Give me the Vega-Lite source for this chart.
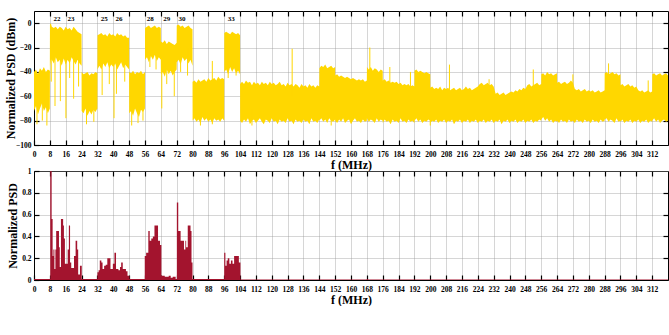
{
  "$schema": "https://vega.github.io/schema/vega-lite/v6.json",
  "autosize": {"type": "pad"},
  "padding": {"left": 3, "top": 9, "right": 2, "bottom": 0},
  "background": "white",
  "bounds": "flush",
  "spacing": 26,
  "datasets": {
    "top": [
      {"f":0,"l":-72,"h":-40},{"f":1,"l":-68,"h":-38},{"f":2,"l":-75,"h":-42},{"f":3,"l":-70,"h":-37},{"f":4,"l":-66,"h":-39},{"f":5,"l":-72,"h":-36},{"f":6,"l":-69,"h":-40},{"f":7,"l":-74,"h":-38},{"f":8,"l":-70,"h":-39},
      {"f":8.05,"l":-35,"h":-1},{"f":8.5,"l":-30,"h":0},{"f":9,"l":-30,"h":-3},{"f":10,"l":-33,"h":-4},{"f":11,"l":-28,"h":-3},{"f":12,"l":-32,"h":-5},{"f":13,"l":-30,"h":-3},{"f":14,"l":-35,"h":-4},{"f":15,"l":-29,"h":-6},{"f":16,"l":-34,"h":-3},{"f":17,"l":-30,"h":-5},{"f":18,"l":-33,"h":-4},{"f":19,"l":-28,"h":-6},{"f":20,"l":-31,"h":-3},{"f":21,"l":-34,"h":-5},{"f":22,"l":-30,"h":-7},{"f":23,"l":-33,"h":-8},{"f":24,"l":-35,"h":-9},
      {"f":24.05,"l":-72,"h":-40},{"f":25,"l":-74,"h":-42},{"f":26,"l":-70,"h":-41},{"f":27,"l":-76,"h":-40},{"f":28,"l":-72,"h":-43},{"f":29,"l":-75,"h":-41},{"f":30,"l":-71,"h":-42},{"f":31,"l":-73,"h":-40},{"f":32,"l":-70,"h":-41},
      {"f":32.05,"l":-38,"h":-10},{"f":33,"l":-35,"h":-9},{"f":34,"l":-38,"h":-8},{"f":35,"l":-33,"h":-10},{"f":36,"l":-36,"h":-9},{"f":37,"l":-32,"h":-11},{"f":38,"l":-37,"h":-8},{"f":39,"l":-34,"h":-10},{"f":40,"l":-36,"h":-9},{"f":41,"l":-33,"h":-11},{"f":42,"l":-38,"h":-8},{"f":43,"l":-35,"h":-10},{"f":44,"l":-32,"h":-9},{"f":45,"l":-37,"h":-11},{"f":46,"l":-34,"h":-10},{"f":47,"l":-36,"h":-12},{"f":48,"l":-38,"h":-12},
      {"f":48.05,"l":-74,"h":-40},{"f":49,"l":-72,"h":-41},{"f":50,"l":-76,"h":-39},{"f":51,"l":-70,"h":-42},{"f":52,"l":-74,"h":-40},{"f":53,"l":-77,"h":-41},{"f":54,"l":-71,"h":-39},{"f":55,"l":-73,"h":-42},{"f":56,"l":-70,"h":-40},
      {"f":56.05,"l":-30,"h":-4},{"f":57,"l":-28,"h":-3},{"f":58,"l":-32,"h":-2},{"f":59,"l":-27,"h":-4},{"f":60,"l":-30,"h":-3},{"f":61,"l":-26,"h":-2},{"f":62,"l":-31,"h":-4},{"f":63,"l":-28,"h":-3},{"f":64,"l":-30,"h":-4},
      {"f":64.05,"l":-42,"h":-15},{"f":65,"l":-40,"h":-16},{"f":66,"l":-44,"h":-14},{"f":67,"l":-38,"h":-17},{"f":68,"l":-42,"h":-15},{"f":69,"l":-39,"h":-16},{"f":70,"l":-43,"h":-17},{"f":71,"l":-40,"h":-18},{"f":72,"l":-38,"h":-16},
      {"f":72.05,"l":-32,"h":-2},{"f":73,"l":-30,"h":-1},{"f":74,"l":-34,"h":-3},{"f":75,"l":-28,"h":-2},{"f":76,"l":-31,"h":-4},{"f":77,"l":-29,"h":-3},{"f":78,"l":-33,"h":-2},{"f":79,"l":-30,"h":-4},{"f":80,"l":-35,"h":-5},
      {"f":80.05,"l":-80,"h":-48},{"f":81,"l":-78,"h":-47},{"f":82,"l":-81,"h":-49},{"f":83,"l":-79,"h":-46},{"f":84,"l":-82,"h":-48},{"f":85,"l":-77,"h":-47},{"f":86,"l":-80,"h":-46},{"f":87,"l":-78,"h":-48},{"f":88,"l":-81,"h":-45},{"f":89,"l":-79,"h":-47},{"f":90,"l":-82,"h":-46},{"f":91,"l":-78,"h":-45},{"f":92,"l":-80,"h":-47},{"f":93,"l":-79,"h":-44},{"f":94,"l":-81,"h":-46},{"f":95,"l":-78,"h":-45},{"f":96,"l":-80,"h":-46},
      {"f":96.05,"l":-40,"h":-8},{"f":97,"l":-38,"h":-7},{"f":98,"l":-42,"h":-8},{"f":99,"l":-36,"h":-9},{"f":100,"l":-40,"h":-7},{"f":101,"l":-37,"h":-8},{"f":102,"l":-41,"h":-9},{"f":103,"l":-39,"h":-8},{"f":104,"l":-42,"h":-10},
      {"f":104.05,"l":-80,"h":-50},{"f":105,"l":-82,"h":-48},{"f":106,"l":-79,"h":-50},{"f":107,"l":-81,"h":-47},{"f":108,"l":-78,"h":-49},{"f":109,"l":-83,"h":-48},{"f":110,"l":-80,"h":-51},{"f":111,"l":-79,"h":-48},{"f":112,"l":-82,"h":-50},{"f":113,"l":-80,"h":-49},{"f":114,"l":-78,"h":-51},{"f":115,"l":-81,"h":-48},{"f":116,"l":-83,"h":-50},{"f":117,"l":-79,"h":-49},{"f":118,"l":-80,"h":-51},{"f":119,"l":-82,"h":-48},{"f":120,"l":-78,"h":-50},{"f":121,"l":-81,"h":-49},{"f":122,"l":-80,"h":-51},{"f":123,"l":-83,"h":-50},{"f":124,"l":-79,"h":-48},{"f":125,"l":-81,"h":-51},{"f":126,"l":-80,"h":-50},{"f":127,"l":-82,"h":-52},{"f":128,"l":-78,"h":-49},{"f":129,"l":-81,"h":-51},{"f":130,"l":-80,"h":-50},{"f":131,"l":-83,"h":-52},{"f":132,"l":-79,"h":-50},{"f":133,"l":-81,"h":-51},{"f":134,"l":-80,"h":-53},{"f":135,"l":-82,"h":-50},{"f":136,"l":-79,"h":-52},{"f":137,"l":-81,"h":-51},{"f":138,"l":-80,"h":-53},{"f":139,"l":-83,"h":-50},{"f":140,"l":-78,"h":-52},{"f":141,"l":-81,"h":-51},{"f":142,"l":-80,"h":-53},{"f":143,"l":-82,"h":-51},{"f":144,"l":-79,"h":-52},
      {"f":144.05,"l":-80,"h":-37},{"f":145,"l":-78,"h":-35},{"f":146,"l":-81,"h":-36},{"f":147,"l":-79,"h":-34},{"f":148,"l":-82,"h":-37},{"f":149,"l":-78,"h":-36},{"f":150,"l":-80,"h":-35},{"f":151,"l":-81,"h":-37},{"f":152,"l":-79,"h":-36},
      {"f":152.05,"l":-80,"h":-43},{"f":153,"l":-82,"h":-42},{"f":154,"l":-79,"h":-44},{"f":155,"l":-81,"h":-43},{"f":156,"l":-78,"h":-44},{"f":157,"l":-82,"h":-45},{"f":158,"l":-80,"h":-44},{"f":159,"l":-79,"h":-45},{"f":160,"l":-83,"h":-46},{"f":161,"l":-80,"h":-45},{"f":162,"l":-78,"h":-46},{"f":163,"l":-81,"h":-47},{"f":164,"l":-80,"h":-46},{"f":165,"l":-82,"h":-47},{"f":166,"l":-79,"h":-46},{"f":167,"l":-81,"h":-48},{"f":168,"l":-80,"h":-47},
      {"f":168.05,"l":-78,"h":-36},{"f":169,"l":-81,"h":-38},{"f":170,"l":-79,"h":-36},{"f":171,"l":-80,"h":-39},{"f":172,"l":-82,"h":-37},{"f":173,"l":-78,"h":-38},{"f":174,"l":-81,"h":-40},{"f":175,"l":-79,"h":-38},{"f":176,"l":-80,"h":-39},
      {"f":176.05,"l":-82,"h":-47},{"f":177,"l":-79,"h":-46},{"f":178,"l":-81,"h":-48},{"f":179,"l":-80,"h":-47},{"f":180,"l":-83,"h":-49},{"f":181,"l":-79,"h":-48},{"f":182,"l":-81,"h":-49},{"f":183,"l":-80,"h":-48},{"f":184,"l":-82,"h":-50},{"f":185,"l":-78,"h":-49},{"f":186,"l":-81,"h":-51},{"f":187,"l":-80,"h":-50},{"f":188,"l":-82,"h":-51},{"f":189,"l":-79,"h":-50},{"f":190,"l":-81,"h":-52},{"f":191,"l":-80,"h":-51},{"f":192,"l":-82,"h":-52},
      {"f":192.05,"l":-80,"h":-39},{"f":193,"l":-78,"h":-38},{"f":194,"l":-81,"h":-40},{"f":195,"l":-79,"h":-39},{"f":196,"l":-82,"h":-40},{"f":197,"l":-80,"h":-41},{"f":198,"l":-81,"h":-40},{"f":199,"l":-79,"h":-41},{"f":200,"l":-80,"h":-42},
      {"f":200.05,"l":-82,"h":-53},{"f":201,"l":-80,"h":-52},{"f":202,"l":-81,"h":-54},{"f":203,"l":-79,"h":-53},{"f":204,"l":-82,"h":-54},{"f":205,"l":-80,"h":-52},{"f":206,"l":-81,"h":-55},{"f":207,"l":-79,"h":-53},{"f":208,"l":-82,"h":-54},{"f":209,"l":-80,"h":-53},{"f":210,"l":-81,"h":-55},{"f":211,"l":-79,"h":-54},{"f":212,"l":-83,"h":-53},{"f":213,"l":-80,"h":-55},{"f":214,"l":-81,"h":-54},{"f":215,"l":-79,"h":-53},{"f":216,"l":-82,"h":-55},{"f":217,"l":-80,"h":-54},{"f":218,"l":-81,"h":-52},{"f":219,"l":-79,"h":-54},{"f":220,"l":-82,"h":-53},{"f":221,"l":-80,"h":-55},{"f":222,"l":-81,"h":-54},{"f":223,"l":-79,"h":-53},{"f":224,"l":-82,"h":-52},
      {"f":225,"l":-80,"h":-50},{"f":226,"l":-81,"h":-49},{"f":227,"l":-79,"h":-51},{"f":228,"l":-82,"h":-50},{"f":229,"l":-80,"h":-49},{"f":230,"l":-81,"h":-51},{"f":231,"l":-79,"h":-50},{"f":232,"l":-82,"h":-52},
      {"f":233,"l":-80,"h":-58},{"f":234,"l":-81,"h":-57},{"f":235,"l":-79,"h":-59},{"f":236,"l":-83,"h":-58},{"f":237,"l":-80,"h":-57},{"f":238,"l":-81,"h":-59},{"f":239,"l":-79,"h":-58},{"f":240,"l":-82,"h":-57},
      {"f":241,"l":-80,"h":-56},{"f":242,"l":-81,"h":-57},{"f":243,"l":-79,"h":-55},{"f":244,"l":-82,"h":-56},{"f":245,"l":-80,"h":-54},{"f":246,"l":-81,"h":-55},{"f":247,"l":-79,"h":-53},{"f":248,"l":-82,"h":-54},
      {"f":249,"l":-80,"h":-51},{"f":250,"l":-81,"h":-50},{"f":251,"l":-79,"h":-52},{"f":252,"l":-82,"h":-51},{"f":253,"l":-80,"h":-50},{"f":254,"l":-81,"h":-49},{"f":255,"l":-79,"h":-51},{"f":256,"l":-80,"h":-50},
      {"f":256.05,"l":-79,"h":-42},{"f":257,"l":-77,"h":-41},{"f":258,"l":-80,"h":-43},{"f":259,"l":-78,"h":-40},{"f":260,"l":-81,"h":-42},{"f":261,"l":-79,"h":-41},{"f":262,"l":-82,"h":-43},{"f":263,"l":-80,"h":-42},{"f":264,"l":-81,"h":-41},
      {"f":264.05,"l":-80,"h":-49},{"f":265,"l":-82,"h":-48},{"f":266,"l":-79,"h":-50},{"f":267,"l":-81,"h":-49},{"f":268,"l":-80,"h":-48},{"f":269,"l":-82,"h":-50},{"f":270,"l":-79,"h":-49},{"f":271,"l":-81,"h":-47},{"f":272,"l":-80,"h":-49},
      {"f":273,"l":-82,"h":-54},{"f":274,"l":-79,"h":-55},{"f":275,"l":-81,"h":-54},{"f":276,"l":-80,"h":-56},{"f":277,"l":-82,"h":-55},{"f":278,"l":-79,"h":-54},{"f":279,"l":-81,"h":-56},{"f":280,"l":-80,"h":-55},{"f":281,"l":-82,"h":-56},{"f":282,"l":-79,"h":-55},{"f":283,"l":-81,"h":-57},{"f":284,"l":-80,"h":-56},{"f":285,"l":-82,"h":-55},{"f":286,"l":-79,"h":-57},{"f":287,"l":-81,"h":-56},{"f":288,"l":-80,"h":-55},
      {"f":288.05,"l":-79,"h":-41},{"f":289,"l":-78,"h":-40},{"f":290,"l":-81,"h":-42},{"f":291,"l":-79,"h":-41},{"f":292,"l":-80,"h":-40},{"f":293,"l":-82,"h":-42},{"f":294,"l":-78,"h":-41},{"f":295,"l":-81,"h":-43},{"f":296,"l":-80,"h":-42},
      {"f":296.05,"l":-81,"h":-51},{"f":297,"l":-79,"h":-50},{"f":298,"l":-82,"h":-52},{"f":299,"l":-80,"h":-51},{"f":300,"l":-81,"h":-50},{"f":301,"l":-79,"h":-52},{"f":302,"l":-82,"h":-51},{"f":303,"l":-80,"h":-53},{"f":304,"l":-81,"h":-52},
      {"f":305,"l":-79,"h":-55},{"f":306,"l":-82,"h":-56},{"f":307,"l":-80,"h":-55},{"f":308,"l":-81,"h":-57},{"f":309,"l":-79,"h":-56},{"f":310,"l":-82,"h":-55},{"f":311,"l":-80,"h":-57},{"f":312,"l":-81,"h":-56},
      {"f":312.05,"l":-80,"h":-42},{"f":313,"l":-78,"h":-41},{"f":314,"l":-81,"h":-43},{"f":315,"l":-79,"h":-42},{"f":316,"l":-82,"h":-41},{"f":317,"l":-80,"h":-43},{"f":318,"l":-79,"h":-42},{"f":319,"l":-81,"h":-41},{"f":320,"l":-80,"h":-43}
    ],
    "spikes": [
      {"f":1.5,"l":-83,"h":-60},{"f":4.2,"l":-80,"h":-60},{"f":6.5,"l":-84,"h":-60},
      {"f":8.7,"l":-48,"h":-20},{"f":10.6,"l":-68,"h":-20},{"f":13.3,"l":-64,"h":-20},{"f":16.1,"l":-78,"h":-20},{"f":18,"l":-45,"h":-20},{"f":20,"l":-62,"h":-20},{"f":22.5,"l":-52,"h":-20},
      {"f":26.5,"l":-83,"h":-60},{"f":30.2,"l":-81,"h":-60},
      {"f":34.4,"l":-59,"h":-20},{"f":38,"l":-50,"h":-20},{"f":40.4,"l":-78,"h":-20},{"f":41.6,"l":-58,"h":-20},{"f":45.8,"l":-48,"h":-20},
      {"f":49.3,"l":-84,"h":-60},{"f":52.5,"l":-82,"h":-60},{"f":55,"l":-80,"h":-60},
      {"f":58.5,"l":-36,"h":-20},{"f":61.6,"l":-38,"h":-20},
      {"f":64.5,"l":-70,"h":-30},{"f":67,"l":-50,"h":-30},{"f":70.8,"l":-60,"h":-30},
      {"f":74,"l":-40,"h":-20},{"f":77.5,"l":-43,"h":-20},
      {"f":84,"l":-84,"h":-60},{"f":90,"l":-83,"h":-31},
      {"f":98,"l":-45,"h":-20},{"f":102,"l":-43,"h":-20},
      {"f":110,"l":-84,"h":-70},{"f":130.3,"l":-60,"h":-21},{"f":150,"l":-84,"h":-70},{"f":169.5,"l":-60,"h":-20},{"f":179.6,"l":-60,"h":-36},{"f":190,"l":-60,"h":-40},{"f":200,"l":-84,"h":-70},{"f":209.7,"l":-60,"h":-34},{"f":229.7,"l":-60,"h":-46},{"f":252,"l":-60,"h":-38},{"f":272,"l":-60,"h":-42},{"f":290,"l":-60,"h":-33},{"f":310,"l":-60,"h":-47}
    ],
    "channels": [
      {"f":11.6,"t":"22"},{"f":18.7,"t":"23"},{"f":35.4,"t":"25"},{"f":42.9,"t":"26"},{"f":58.7,"t":"28"},{"f":67,"t":"29"},{"f":74.7,"t":"30"},{"f":99.5,"t":"33"}
    ],
    "lin": [
      {"f":0,"v":0.01},{"f":8.2,"v":1.0},{"f":8.9,"v":0.56},{"f":9.4,"v":0.22},{"f":9.8,"v":0.28},{"f":10.3,"v":0.1},{"f":10.8,"v":0.28},{"f":11.2,"v":0.45},{"f":12.6,"v":0.3},{"f":13.0,"v":0.12},{"f":13.6,"v":0.56},{"f":14.7,"v":0.5},{"f":15.1,"v":0.38},{"f":15.6,"v":0.15},{"f":16.4,"v":0.15},{"f":17.0,"v":0.28},{"f":17.6,"v":0.5},{"f":18.2,"v":0.16},{"f":18.8,"v":0.11},{"f":20.2,"v":0.22},{"f":21.0,"v":0.36},{"f":21.8,"v":0.28},{"f":22.3,"v":0.05},{"f":23.2,"v":0.13},{"f":24.1,"v":0.01},
      {"f":32.0,"v":0.07},{"f":32.6,"v":0.09},{"f":33.2,"v":0.18},{"f":34.0,"v":0.16},{"f":34.6,"v":0.1},{"f":35.4,"v":0.13},{"f":36.2,"v":0.14},{"f":37.0,"v":0.2},{"f":38.6,"v":0.1},{"f":39.8,"v":0.15},{"f":40.6,"v":0.25},{"f":41.4,"v":0.1},{"f":42.6,"v":0.09},{"f":43.4,"v":0.12},{"f":44.0,"v":0.16},{"f":44.8,"v":0.1},{"f":46.4,"v":0.08},{"f":47.2,"v":0.04},{"f":48.2,"v":0.01},
      {"f":55.9,"v":0.22},{"f":56.6,"v":0.25},{"f":57.7,"v":0.45},{"f":58.4,"v":0.36},{"f":59.2,"v":0.38},{"f":60.0,"v":0.4},{"f":60.8,"v":0.5},{"f":62.6,"v":0.36},{"f":63.6,"v":0.32},{"f":64.3,"v":0.04},{"f":66.0,"v":0.03},{"f":68.0,"v":0.04},{"f":69.0,"v":0.02},{"f":70.0,"v":0.03},{"f":71.5,"v":0.01},
      {"f":72.1,"v":0.71},{"f":72.8,"v":0.45},{"f":74.0,"v":0.36},{"f":75.7,"v":0.28},{"f":76.4,"v":0.36},{"f":76.8,"v":0.3},{"f":77.6,"v":0.5},{"f":79.0,"v":0.45},{"f":79.5,"v":0.16},{"f":80.0,"v":0.01},
      {"f":96.0,"v":0.25},{"f":96.6,"v":0.13},{"f":97.2,"v":0.18},{"f":97.8,"v":0.2},{"f":98.6,"v":0.15},{"f":99.4,"v":0.18},{"f":100.2,"v":0.15},{"f":101.0,"v":0.22},{"f":103.4,"v":0.16},{"f":104.2,"v":0.004},
      {"f":168.0,"v":0.01},{"f":168.6,"v":0.004},{"f":320,"v":0.004}
    ]
  },
  "vconcat": [
    {
      "width": 634,
      "height": 134,
      "layer": [
        {
          "data": {"name": "top"},
          "mark": {"type": "area", "color": "#FFD700", "interpolate": "linear"},
          "encoding": {
            "x": {"field": "f", "type": "quantitative", "scale": {"domain": [0, 320], "nice": false, "zero": false},
              "axis": {"orient": "bottom", "title": "f (MHz)", "values": [0,8,16,24,32,40,48,56,64,72,80,88,96,104,112,120,128,136,144,152,160,168,176,184,192,200,208,216,224,232,240,248,256,264,272,280,288,296,304,312], "labelFlush": false, "labelOverlap": false, "grid": true, "tickSize": -5, "labelPadding": 10, "titlePadding": 2}},
            "y": {"field": "l", "type": "quantitative", "scale": {"domain": [-100, 10], "nice": false, "zero": false},
              "axis": {"title": "Normalized PSD (dBm)", "values": [-100,-80,-60,-40,-20,0], "grid": true, "tickSize": -5, "labelPadding": 8, "titlePadding": -2}},
            "y2": {"field": "h"}
          }
        },
        {
          "data": {"name": "spikes"},
          "mark": {"type": "rule", "color": "#FFD700", "strokeWidth": 1},
          "encoding": {
            "x": {"field": "f", "type": "quantitative", "axis": {"orient": "top", "title": null, "labels": false, "grid": false, "domain": false, "tickSize": -5, "values": [8,16,24,32,40,48,56,64,72,80,88,96,104,112,120,128,136,144,152,160,168,176,184,192,200,208,216,224,232,240,248,256,264,272,280,288,296,304,312]}},
            "y": {"field": "l", "type": "quantitative", "axis": {"orient": "right", "title": null, "labels": false, "grid": false, "domain": false, "tickSize": -5, "values": [-80,-60,-40,-20,0]}},
            "y2": {"field": "h"}
          }
        },
        {
          "mark": {"type": "rule", "color": "black", "strokeDash": [4, 2.5], "strokeWidth": 1.2},
          "encoding": {"y": {"datum": -2.5, "type": "quantitative", "axis": null}}
        },
        {
          "data": {"name": "channels"},
          "mark": {"type": "text", "font": "Liberation Serif", "fontWeight": "bold", "fontSize": 7, "color": "black"},
          "encoding": {
            "x": {"field": "f", "type": "quantitative", "axis": null},
            "y": {"datum": 3.5, "type": "quantitative", "axis": null},
            "text": {"field": "t"}
          }
        }
      ],
      "resolve": {"axis": {"x": "independent", "y": "independent"}}
    },
    {
      "width": 634,
      "height": 109,
      "data": {"name": "lin"},
      "layer": [
        {
          "mark": {"type": "area", "color": "#A3142E", "interpolate": "step-after"},
          "encoding": {
            "x": {"field": "f", "type": "quantitative", "scale": {"domain": [0, 320], "nice": false, "zero": false},
              "axis": {"orient": "bottom", "title": "f (MHz)", "values": [0,8,16,24,32,40,48,56,64,72,80,88,96,104,112,120,128,136,144,152,160,168,176,184,192,200,208,216,224,232,240,248,256,264,272,280,288,296,304,312], "labelFlush": false, "labelOverlap": false, "grid": true, "tickSize": -5, "labelPadding": 10, "titlePadding": 2}},
            "y": {"field": "v", "type": "quantitative", "scale": {"domain": [0, 1], "nice": false},
              "axis": {"title": "Normalized PSD", "values": [0,0.2,0.4,0.6,0.8,1], "format": "~g", "grid": true, "tickSize": -5, "labelPadding": 8, "titlePadding": 2}}
          }
        },
        {
          "mark": {"type": "line", "opacity": 0},
          "encoding": {
            "x": {"field": "f", "type": "quantitative", "axis": {"orient": "top", "title": null, "labels": false, "grid": false, "domain": false, "tickSize": -5, "values": [8,16,24,32,40,48,56,64,72,80,88,96,104,112,120,128,136,144,152,160,168,176,184,192,200,208,216,224,232,240,248,256,264,272,280,288,296,304,312]}},
            "y": {"field": "v", "type": "quantitative", "axis": {"orient": "right", "title": null, "labels": false, "grid": false, "domain": false, "tickSize": -5, "values": [0.2,0.4,0.6,0.8]}}
          }
        }
      ],
      "resolve": {"axis": {"x": "independent", "y": "independent"}}
    }
  ],
  "config": {
    "font": "Liberation Serif",
    "view": {"stroke": "black", "strokeWidth": 1},
    "axis": {
      "labelFont": "Liberation Serif", "labelFontSize": 7.5, "labelFontWeight": "bold", "labelColor": "black",
      "titleFont": "Liberation Serif", "titleFontSize": 12, "titleFontWeight": "bold", "titleColor": "black",
      "domainColor": "black", "domainWidth": 1, "tickColor": "black", "tickWidth": 1.2,
      "gridColor": "#9a9a9a", "gridDash": [1, 1], "gridWidth": 1, "gridOpacity": 0.8
    }
  }
}
